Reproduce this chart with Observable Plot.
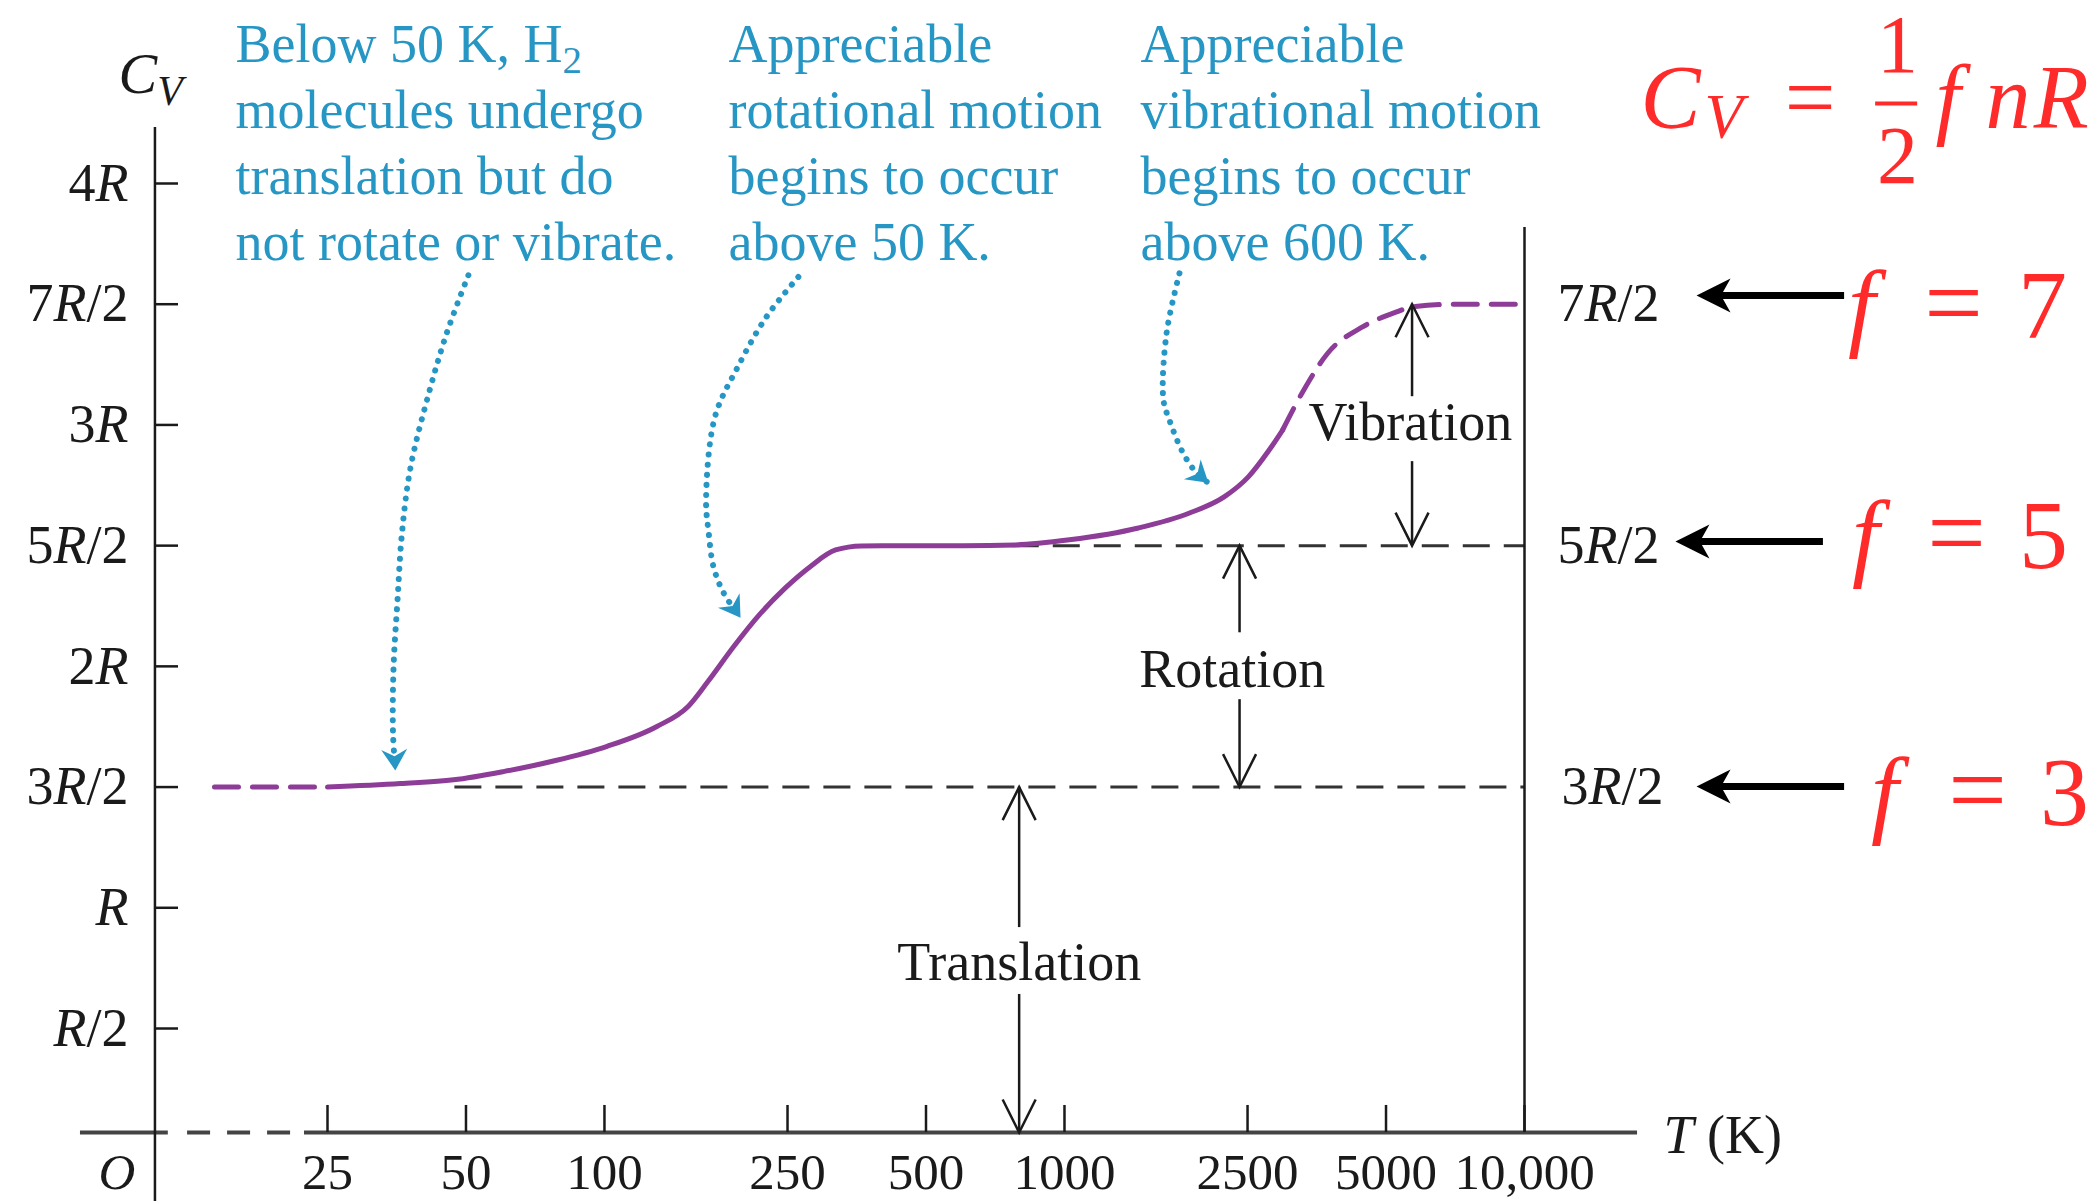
<!DOCTYPE html>
<html>
<head>
<meta charset="utf-8">
<script src="https://cdn.jsdelivr.net/npm/d3@7"></script>
<script src="https://cdn.jsdelivr.net/npm/@observablehq/plot@0.6"></script>
<style>
  html, body { margin: 0; padding: 0; background: #fff; }
  #chart svg { display: block; }
</style>
</head>
<body>
<div id="chart"></div>
<script>
// ---------------- DATA ----------------
// Temperature ticks (K) and labels
const xTicks = [25, 50, 100, 250, 500, 1000, 2500, 5000, 10000];
const xTickLabels = ["25", "50", "100", "250", "500", "1000", "2500", "5000", "10,000"];
// C_V ticks (in units of R) and labels
const yTicks = [0.5, 1, 1.5, 2, 2.5, 3, 3.5, 4];
const yTickLabels = ["*R*/2", "*R*", "3*R*/2", "2*R*", "5*R*/2", "3*R*", "7*R*/2", "4*R*"];
// plateau levels, labels and degrees of freedom
const levels = [1.5, 2.5, 3.5];
const levelLabels = ["3*R*/2", "5*R*/2", "7*R*/2"];
const dof = ["3", "5", "7"];
// C_V(T) curve of H2 : dashed below 25 K, solid 25–~3000 K, dashed above
const lowT = [14.2, 25];
const lowCv = [1.5, 1.5];
const midT = [25, 36, 47, 60.6, 78.3, 101, 130, 152, 168, 191, 217, 247, 280, 318, 362, 450, 603, 782, 1025, 1448, 1870, 2228, 2513, 2786, 2980];
const midCv = [1.5, 1.515, 1.53, 1.565, 1.61, 1.668, 1.751, 1.834, 1.938, 2.082, 2.213, 2.324, 2.413, 2.482, 2.499, 2.5, 2.5, 2.503, 2.524, 2.573, 2.635, 2.703, 2.786, 2.896, 2.979];
const highT = [2980, 3311, 3734, 4446, 5271, 5700, 7000, 10000];
const highCv = [2.979, 3.144, 3.297, 3.406, 3.468, 3.489, 3.5, 3.5];
// energy-mode bands
const bandLabels = ["Translation", "Rotation", "Vibration"];
const bandLow = [0, 1.5, 2.5];
const bandHigh = [1.5, 2.5, 3.5];
// notes
const notes = [
  ["Below 50 K, H_2_", "molecules undergo", "translation but do", "not rotate or vibrate."],
  ["Appreciable", "rotational motion", "begins to occur", "above 50 K."],
  ["Appreciable", "vibrational motion", "begins to occur", "above 600 K."]
];
// formula C_V = (1/2) f n R
const formulaItalic = ["C", "f", "n", "R"];
const formulaSub = ["V"];
const formulaEq = ["="];
const formulaFrac = ["1", "2"];

// ---------------- LAYOUT (data units: T in K, C_V in R) ----------------
const BLUE = "#2696c4", PURPLE = "#8d3c97", RED = "#ff2a2a", INK = "#1a1a1a";
const FONT = "'Liberation Serif', 'Times New Roman', serif";
const L = {
  yAxisT: 10.54, yAxisTop: 4.232, yAxisBottom: -0.5, yTickEndT: 11.86,
  xTickTop: 0.13, xAxisSolid: [[7.26, 11.27], [22.28, 17610]], xAxisDash: [12.41, 22.28],
  rightT: 10000, rightTop: 3.818,
  labelRowCv: -0.192, yLabelT: 9.23, originT: 8.71,
  cvLabel: {T: 8.78, cv: 4.45}, tLabel: {T: 20050, cv: -0.014},
  refStart: [47.3, 770],
  bandT: [797, 2402, 5696], bandLabelT: [797, 2317, 5650], bandLabelCv: [0.773, 1.987, 3.01],
  bandGapLow: [0.641, 1.862, 2.848], bandGapHigh: [0.918, 2.139, 3.117],
  noteT: [15.77, 186, 1463], noteCv: 4.18,
  pointerT: [[50.6, 45.4, 41.5, 37.9, 36.3, 35.5, 34.8, 34.7, 35.1],
             [263.9, 225, 195, 173.9, 166.3, 168.5, 172.6, 181.5, 197.6],
             [1778, 1667, 1641, 1691, 1810, 1937, 2055]],
  pointerCv: [[3.62, 3.38, 3.13, 2.826, 2.553, 2.276, 1.998, 1.725, 1.569],
              [3.613, 3.448, 3.241, 3.034, 2.689, 2.553, 2.412, 2.305, 2.201],
              [3.628, 3.380, 3.103, 3.020, 2.884, 2.801, 2.76]],
  pointerAngle: [177, 146, 130],
  levelLabelT: [12040, 11800, 11800],
  arrowTail: [49640, 44650, 49640], arrowTip: [23660, 21290, 23660], arrowCv: [1.502, 2.517, 3.536],
  fT: [60630, 55130, 54060], eqT: [96590, 86940, 85640], digitT: [149300, 134400, 133700],
  fBase: [1.341, 2.409, 3.362],
  formulaItalicT: [17880, 78280, 100550, 127880], formulaBase: 4.228,
  formulaSubT: [24630], formulaSubBase: 4.19,
  formulaEqT: [41770],
  formulaFracT: 64730, formulaFracBase: [4.46, 4.004],
  formulaBar: [57980, 71550, 4.331]
};

// arrowhead symbols (tip at origin, pointing up)
const stealth = (w, n) => ({draw(ctx, size) {
  const r = Math.sqrt(size / Math.PI);
  ctx.moveTo(0, 0); ctx.lineTo(w * r, r); ctx.lineTo(0, n * r); ctx.lineTo(-w * r, r); ctx.closePath();
}});
const vee = {draw(ctx, size) {
  const r = Math.sqrt(size / Math.PI);
  ctx.moveTo(-0.5 * r, r); ctx.lineTo(0, 0); ctx.lineTo(0.5 * r, r);
}};

const idx = n => d3.range(n);
const pointerRows = L.pointerT.flatMap((ts, k) => ts.map((t, i) => ({T: t, cv: L.pointerCv[k][i], k})));
const rowsOf = (T, C) => T.map((t, i) => ({T: t, cv: C[i]}));

const textBase = {fontFamily: FONT, fontSize: 54, fill: INK};
const redBase = {fontFamily: FONT, fill: RED, lineAnchor: "bottom"};

const plot = Plot.plot({
  width: 2096,
  height: 1201,
  margin: 0,
  x: {type: "log", domain: [25, 10000], range: [327, 1524], axis: null},
  y: {type: "linear", domain: [0, 0.5, 4], range: [1132, 1028, 183], axis: null},
  style: {background: "#fff", overflow: "visible"},
  marks: [
    // reference dashed levels
    Plot.ruleY(idx(2), {y: i => levels[i], x1: i => L.refStart[i], x2: () => L.rightT,
      stroke: "#333", strokeWidth: 3, strokeDasharray: "27 14"}),
    // x axis
    Plot.ruleY(L.xAxisSolid, {y: () => 0, x1: d => d[0], x2: d => d[1], stroke: "#444", strokeWidth: 4}),
    Plot.ruleY([L.xAxisDash], {y: () => 0, x1: d => d[0], x2: d => d[1], stroke: "#444", strokeWidth: 4, strokeDasharray: "23 17"}),
    Plot.ruleX(xTicks, {x: d => d, y1: () => 0, y2: () => L.xTickTop, stroke: INK, strokeWidth: 2.5}),
    // y axis
    Plot.ruleX([0], {x: () => L.yAxisT, y1: () => L.yAxisBottom, y2: () => L.yAxisTop, stroke: INK, strokeWidth: 2.5}),
    Plot.ruleY(yTicks, {y: d => d, x1: () => L.yAxisT, x2: () => L.yTickEndT, stroke: INK, strokeWidth: 2.5}),
    // right boundary
    Plot.ruleX([0], {x: () => L.rightT, y1: () => 0, y2: () => L.rightTop, stroke: INK, strokeWidth: 2.5}),
    // curve
    Plot.line(rowsOf(lowT, lowCv), {x: "T", y: "cv", stroke: PURPLE, strokeWidth: 5, strokeDasharray: "24 14"}),
    Plot.line(rowsOf(midT, midCv), {x: "T", y: "cv", stroke: PURPLE, strokeWidth: 5, curve: "monotone-x"}),
    Plot.line(rowsOf(highT, highCv), {x: "T", y: "cv", stroke: PURPLE, strokeWidth: 5, curve: "monotone-x", strokeDasharray: "24 14"}),
    // band arrows
    Plot.ruleX(idx(3), {x: i => L.bandT[i], y1: i => L.bandGapHigh[i], y2: i => bandHigh[i], stroke: INK, strokeWidth: 2.5}),
    Plot.ruleX(idx(3), {x: i => L.bandT[i], y1: i => bandLow[i], y2: i => L.bandGapLow[i], stroke: INK, strokeWidth: 2.5}),
    Plot.dot(idx(3), {x: i => L.bandT[i], y: i => bandHigh[i], symbol: vee, r: 33, fill: "none", stroke: INK, strokeWidth: 2.5}),
    Plot.dot(idx(3), {x: i => L.bandT[i], y: i => bandLow[i], symbol: vee, r: 33, fill: "none", stroke: INK, strokeWidth: 2.5, rotate: 180}),
    Plot.text(idx(3), {...textBase, x: i => L.bandLabelT[i], y: i => L.bandLabelCv[i], text: i => bandLabels[i]}),
    // blue pointers
    Plot.line(pointerRows, {x: "T", y: "cv", z: "k", curve: "catmull-rom", stroke: BLUE, strokeWidth: 6,
      strokeDasharray: "0.1 10", strokeLinecap: "round"}),
    Plot.dot(idx(3), {x: k => L.pointerT[k].at(-1), y: k => L.pointerCv[k].at(-1), symbol: stealth(0.62, 0.68),
      r: 21, fill: BLUE, stroke: "none", rotate: k => L.pointerAngle[k]}),
    // notes
    Plot.text(idx(3), {...textBase, fill: BLUE, x: i => L.noteT[i], y: () => L.noteCv, text: i => notes[i].join("\n"),
      textAnchor: "start", lineAnchor: "middle", lineHeight: 1.222}),
    // tick labels
    Plot.text(xTicks, {...textBase, fontSize: 51, x: d => d, y: () => L.labelRowCv, text: (d, i) => xTickLabels[i]}),
    Plot.text(yTicks, {...textBase, x: () => L.yLabelT, y: d => d, text: (d, i) => yTickLabels[i], textAnchor: "end"}),
    Plot.text(["*O*"], {...textBase, fontSize: 51, x: () => L.originT, y: () => L.labelRowCv}),
    Plot.text(["*C*~V~"], {...textBase, fontSize: 58, x: () => L.cvLabel.T, y: () => L.cvLabel.cv, textAnchor: "start"}),
    Plot.text(["*T* (K)"], {...textBase, x: () => L.tLabel.T, y: () => L.tLabel.cv, textAnchor: "start"}),
    Plot.text(levels, {...textBase, x: (d, i) => L.levelLabelT[i], y: d => d, text: (d, i) => levelLabels[i], textAnchor: "start"}),
    // level arrows
    Plot.ruleY(idx(3), {y: i => L.arrowCv[i], x1: i => L.arrowTail[i], x2: i => L.arrowTip[i] * 1.06, stroke: "#000", strokeWidth: 7}),
    Plot.dot(idx(3), {x: i => L.arrowTip[i], y: i => L.arrowCv[i], symbol: stealth(0.5, 0.72), r: 34, fill: "#000", stroke: "none", rotate: 270}),
    // f = n labels
    Plot.text(idx(3), {...redBase, fontSize: 98, fontStyle: "italic", x: i => L.fT[i], y: i => L.fBase[i], text: () => "f"}),
    Plot.text(idx(3), {...redBase, fontSize: 104, x: i => L.eqT[i], y: i => L.fBase[i], text: () => "="}),
    Plot.text(idx(3), {...redBase, fontSize: 98, x: i => L.digitT[i], y: i => L.fBase[i], text: i => dof[i]}),
    // formula
    Plot.text(formulaItalic, {...redBase, fontSize: 90, fontStyle: "italic", textAnchor: "start",
      x: (d, i) => L.formulaItalicT[i], y: () => L.formulaBase, text: d => d}),
    Plot.text(formulaSub, {...redBase, fontSize: 63, fontStyle: "italic", textAnchor: "start",
      x: (d, i) => L.formulaSubT[i], y: () => L.formulaSubBase, text: d => d}),
    Plot.text(formulaEq, {...redBase, fontSize: 90, x: (d, i) => L.formulaEqT[i], y: () => L.formulaBase, text: d => d}),
    Plot.text(formulaFrac, {...redBase, fontSize: 82, x: () => L.formulaFracT, y: (d, i) => L.formulaFracBase[i], text: d => d}),
    Plot.ruleY([L.formulaBar], {y: d => d[2], x1: d => d[0], x2: d => d[1], stroke: RED, strokeWidth: 4})
  ]
});

document.getElementById("chart").appendChild(plot);

// rich text: *x* italic, _x_ subscript, ~x~ italic subscript
const NS = "http://www.w3.org/2000/svg";
function rich(node, fs) {
  const s = node.textContent;
  if (!/[*_~]/.test(s)) return;
  const parts = s.split(/(\*[^*]*\*|_[^_]*_|~[^~]*~)/).filter(p => p !== "");
  while (node.firstChild) node.removeChild(node.firstChild);
  for (const p of parts) {
    const t = document.createElementNS(NS, "tspan");
    const c = p[0];
    if (c === "*" || c === "_" || c === "~") t.textContent = p.slice(1, -1); else t.textContent = p;
    if (c === "*" || c === "~") t.setAttribute("font-style", "italic");
    if (c === "_" || c === "~") {
      t.setAttribute("font-size", (fs * 0.72).toFixed(1));
      t.setAttribute("baseline-shift", (-fs * 0.2).toFixed(1));
    }
    node.appendChild(t);
  }
}
for (const text of plot.querySelectorAll("text")) {
  const fs = parseFloat(getComputedStyle(text).fontSize);
  const lines = text.querySelectorAll("tspan");
  if (lines.length) lines.forEach(l => rich(l, fs)); else rich(text, fs);
}
</script>
</body>
</html>
